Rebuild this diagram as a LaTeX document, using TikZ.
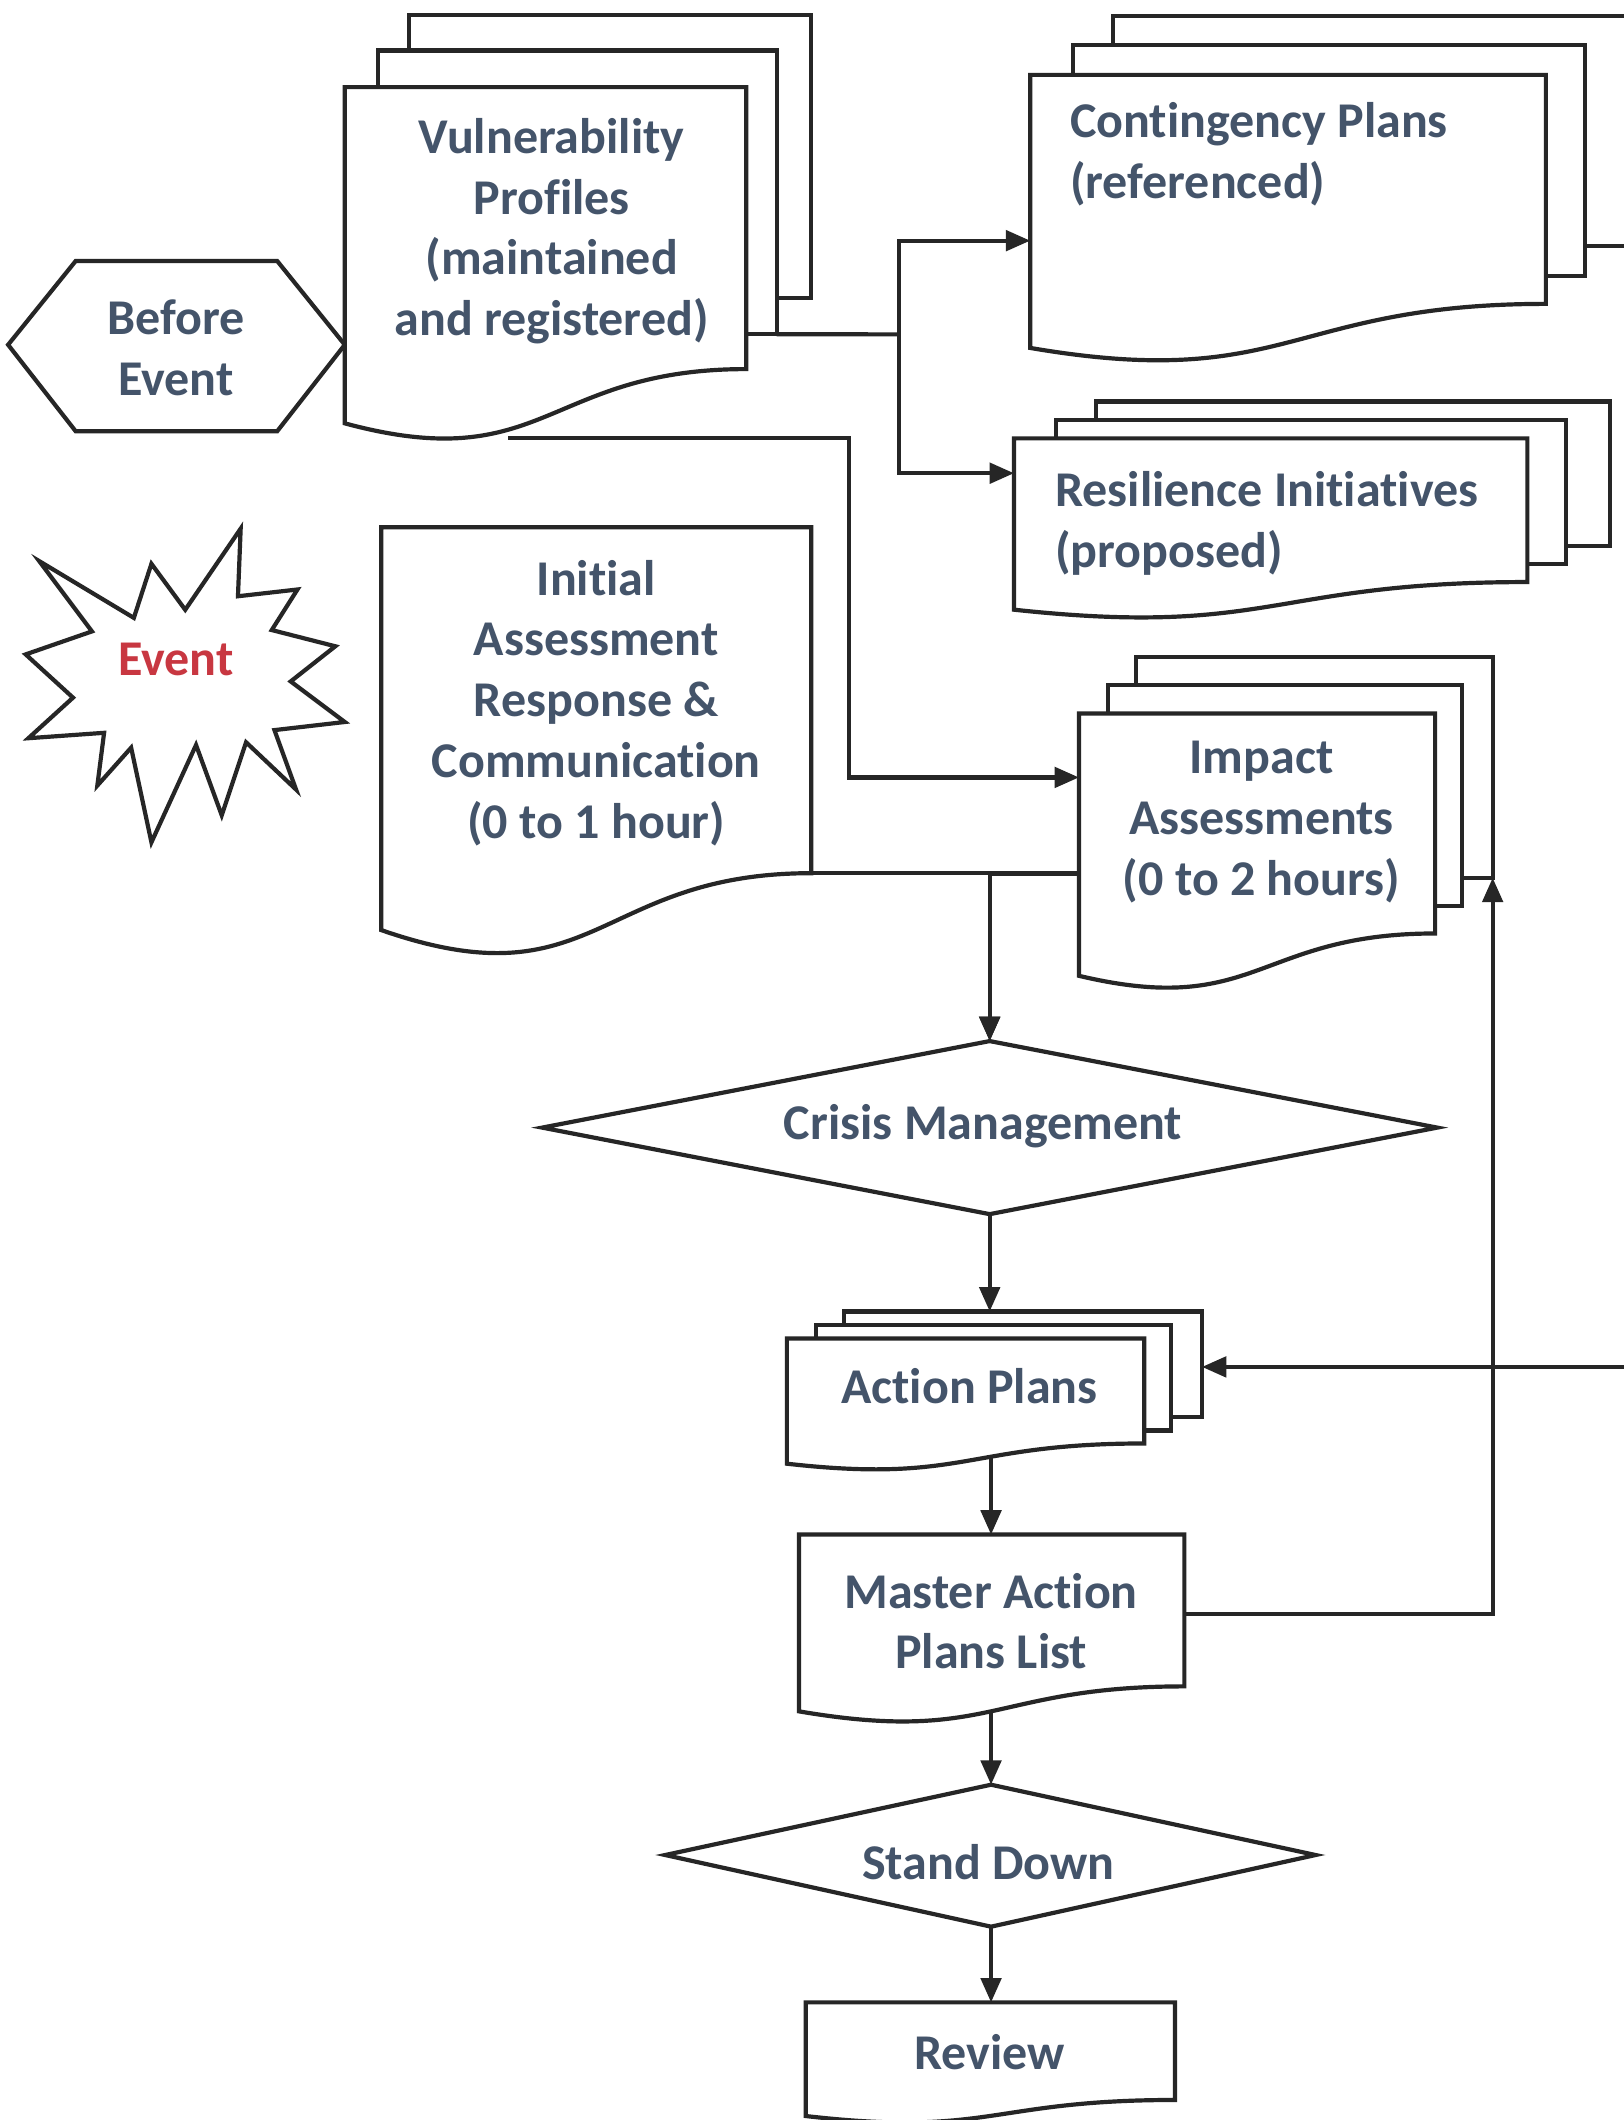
\documentclass[tikz,border=0pt]{standalone}
\usepackage{fontspec}
\setmainfont{Carlito}[Ligatures=NoCommon]
\usetikzlibrary{arrows.meta}
\definecolor{txtc}{HTML}{44546A}
\definecolor{evc}{RGB}{200,55,65}
\definecolor{lnc}{HTML}{262626}
\pgfdeclarelayer{bg}
\pgfsetlayers{bg,main}
\tikzset{
  shp/.style={draw=lnc, line width=1.55pt, fill=white, line join=miter},
  conn/.style={draw=lnc, line width=1.55pt},
  arr/.style={conn, -{Triangle[length=9pt,width=7.5pt]}},
  lbl/.style={text=txtc, font=\fontsize{18.5}{22.5}\selectfont\bfseries, align=center, inner sep=0pt},
}
% multi-document shape: name, x0, y0, x1, y1 (bounding box)
\newcommand\multidoc[5]{%
  \begin{scope}[shift={(#2,#3)},xscale={(#4-#2)/216},yscale={(#5-#3)/216}]
    \draw[shp] (29.72,0) rectangle (216,143.92);
    \draw[shp] (15.32,18.15) rectangle (200,162.52);
    \draw[shp] (0,36.75) -- (185.95,36.75) -- (185.95,180.22)
      .. controls (92.98,180.22) and (92.98,235.42) .. (0,207.82) -- cycle;
    \coordinate (#1-r2) at (200,162.52);
    \coordinate (#1-r3) at (216,143.92);
  \end{scope}}
% single document shape: name, x0, y0, x1, y1
\newcommand\singledoc[5]{%
  \begin{scope}[shift={(#2,#3)},xscale={(#4-#2)/216},yscale={(#5-#3)/216}]
    \draw[shp] (0,0) -- (216,0) -- (216,173.22)
      .. controls (108,173.22) and (108,239.22) .. (0,201.72) -- cycle;
    \coordinate (#1-rb) at (216,173.22);
  \end{scope}}
\begin{document}
\begin{tikzpicture}[x=0.5pt,y=-0.5pt]
\useasboundingbox (0,0) rectangle (1201,1568);
\clip (0,0) rectangle (1201,1568);
\begin{pgfonlayer}{bg}
  \fill[white] (0,0) rectangle (1201,1568);
\end{pgfonlayer}

% ---- shapes ----
\draw[shp] (6,255) -- (56,193) -- (205,193) -- (255,255) -- (205,319) -- (56,319) -- cycle;
\draw[shp] (178,391) -- (176,441) -- (220,436) -- (201,466) -- (248,478) -- (215,504)
  -- (255,534) -- (203,540) -- (219,584) -- (182,549) -- (164,603) -- (145,551)
  -- (112,623) -- (97,553) -- (72,581) -- (77,542) -- (21,546) -- (54,516)
  -- (19,484) -- (68,467) -- (29,415) -- (99,457) -- (112,417) -- (137,451) -- cycle;

\multidoc{vp}{255}{11}{600}{325}
\multidoc{cp}{762}{12}{1205}{267}
\multidoc{ri}{750}{297}{1191}{457}
\multidoc{ia}{798}{486}{1104}{731}
\multidoc{ap}{582}{970}{889}{1087}
\singledoc{ini}{282}{390}{600}{709}
\singledoc{ms}{591}{1135}{876}{1275}
\singledoc{rv}{596}{1481}{869}{1571}

\draw[shp] (732,770) -- (1063,834) -- (732,898) -- (401,834) -- cycle;
\draw[shp] (733,1320) -- (973,1372) -- (733,1425) -- (492,1372) -- cycle;

% ---- labels ----
\node[lbl] (before) at (130,257) {Before\\Event};
\node[lbl, text=evc] (event) at (130,488) {Event};
\node[lbl] (vul) at (408,171) {Vulnerability\\Profiles\\(maintained\\and registered)};
\node[lbl, anchor=west, align=left] (cont) at (791,114) {Contingency Plans\\(referenced)};
\node[lbl, anchor=west, align=left] (res) at (780,387) {Resilience Initiatives\\(proposed)};
\node[lbl] (init) at (441,520) {Initial\\Assessment\\Response \&\\Communication\\(0 to 1 hour)};
\node[lbl] (imp) at (933,608) {Impact\\Assessments\\(0 to 2 hours)};
\node[lbl] (crisis) at (727,833) {Crisis Management};
\node[lbl] (act) at (717,1025) {Action Plans};
\node[lbl] (master) at (733,1199) {Master Action\\Plans List};
\node[lbl] (stand) at (731,1377) {Stand Down};
\node[lbl] (review) at (732,1518) {Review};

% ---- connection points ----
\coordinate (cp-in) at (762,178);
\coordinate (ri-in) at (750,350);
\coordinate (j1) at (665,247.3);
\coordinate (vp-bot) at (376,324);
\coordinate (j2) at (628,324);
\coordinate (ia-in) at (798,575);
\coordinate (ia-out) at (798,646);
\coordinate (cm-top) at (732,770);
\coordinate (cm-bot) at (732,898);
\coordinate (ap-top) at (732,970);
\coordinate (ap-bot) at (733,1070);
\coordinate (ap-in) at (889,1011);
\coordinate (off-r) at (1215,1011);
\coordinate (ms-top) at (733,1135);
\coordinate (ms-bot) at (733,1260);
\coordinate (ms-out) at (876,1194);
\coordinate (sd-top) at (733,1320);
\coordinate (sd-bot) at (733,1425);
\coordinate (rv-top) at (733,1481);

% ---- connectors ----
\begin{pgfonlayer}{bg}
  \draw[conn] (vp-r2) -- (j1);
  \draw[arr] (j1) |- (cp-in);
  \draw[arr] (j1) |- (ri-in);
  \draw[arr] (vp-bot) -- (j2) |- (ia-in);
  \draw[arr] (ini-rb) -| (cm-top);
  \draw[arr] (ia-out) -| (cm-top);
  \draw[arr] (cm-bot) -- (ap-top);
  \draw[arr] (off-r) -- (ap-in);
  \draw[arr] (ap-bot) -- (ms-top);
  \draw[arr] (ms-out) -| (ia-r3);
  \draw[arr] (ms-bot) -- (sd-top);
  \draw[arr] (sd-bot) -- (rv-top);
\end{pgfonlayer}
\end{tikzpicture}
\end{document}
